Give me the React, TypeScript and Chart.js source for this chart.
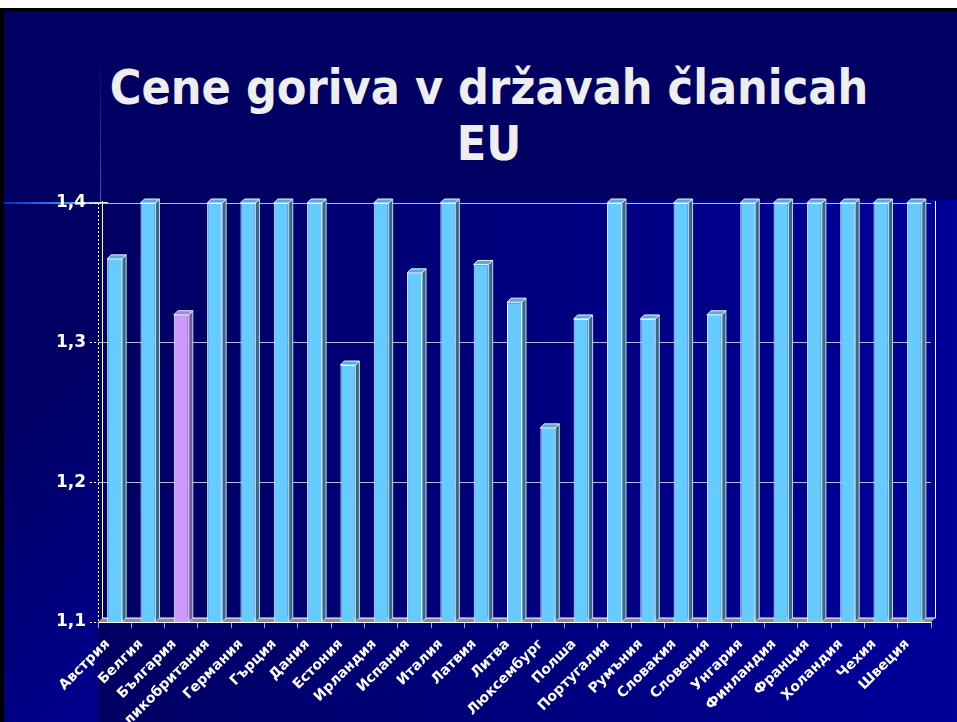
import React, { useEffect, useRef } from 'react';
import { Chart, registerables } from 'chart.js';

Chart.register(...registerables);

const titleLines = ['Cene goriva v državah članicah', 'EU'];

const countries = [
  'Австрия', 'Белгия', 'България', 'Великобритания', 'Германия', 'Гърция', 'Дания',
  'Естония', 'Ирландия', 'Испания', 'Италия', 'Латвия', 'Литва', 'Люксембург',
  'Полша', 'Португалия', 'Румъния', 'Словакия', 'Словения', 'Унгария', 'Финландия',
  'Франция', 'Холандия', 'Чехия', 'Швеция',
];

const prices = [
  1.36, 1.4, 1.32, 1.4, 1.4, 1.4, 1.4,
  1.284, 1.4, 1.35, 1.4, 1.356, 1.329, 1.239,
  1.317, 1.4, 1.317, 1.4, 1.32, 1.4, 1.4,
  1.4, 1.4, 1.4, 1.4,
];

const highlighted = ['България'];

const yMin = 1.1;
const yMax = 1.4;
const yStep = 0.1;

const FRONT = '#66ccff';
const SIDE = '#336b88';
const TOP = '#5aaad4';
const FRONT_HI = '#cc99ff';
const SIDE_HI = '#7a5a9c';
const TOP_HI = '#a880d8';
const DEPTH = 4;

const bar3d = {
  id: 'bar3d',
  beforeDatasetsDraw(chart: any) {
    const { ctx, chartArea } = chart;
    const { left, right, top, bottom } = chartArea;
    ctx.save();
    // floor
    ctx.fillStyle = '#8c8ca0';
    ctx.beginPath();
    ctx.moveTo(left, bottom);
    ctx.lineTo(right, bottom);
    ctx.lineTo(right + DEPTH, bottom - DEPTH);
    ctx.lineTo(left + DEPTH, bottom - DEPTH);
    ctx.closePath();
    ctx.fill();
    // back wall edges
    ctx.strokeStyle = '#ffffff';
    ctx.lineWidth = 1;
    ctx.beginPath();
    ctx.moveTo(Math.round(left + DEPTH) + 0.5, top - 2);
    ctx.lineTo(Math.round(left + DEPTH) + 0.5, bottom - DEPTH);
    ctx.lineTo(Math.round(right + DEPTH) + 0.5, bottom - DEPTH);
    ctx.lineTo(Math.round(right + DEPTH) + 0.5, top - 2);
    ctx.stroke();
    // dashed value axis line
    ctx.setLineDash([2, 2]);
    ctx.beginPath();
    ctx.moveTo(Math.round(left) + 0.5, top);
    ctx.lineTo(Math.round(left) + 0.5, bottom);
    ctx.stroke();
    ctx.restore();
  },
  afterDatasetsDraw(chart: any) {
    const { ctx, chartArea } = chart;
    const meta = chart.getDatasetMeta(0);
    ctx.save();
    meta.data.forEach((el: any, i: number) => {
      const p = el.getProps(['x', 'y', 'base', 'width'], true);
      const x = p.x;
      const width = p.width;
      const y = Math.max(p.y, chartArea.top);
      const base = Math.min(p.base, chartArea.bottom);
      const l = x - width / 2;
      const r = x + width / 2;
      const hi = highlighted.includes(countries[i]);
      // side face
      ctx.fillStyle = hi ? SIDE_HI : SIDE;
      ctx.beginPath();
      ctx.moveTo(r, y);
      ctx.lineTo(r + DEPTH, y - DEPTH);
      ctx.lineTo(r + DEPTH, base - DEPTH);
      ctx.lineTo(r, base);
      ctx.closePath();
      ctx.fill();
      ctx.strokeStyle = '#c8d8e8';
      ctx.lineWidth = 1;
      ctx.stroke();
      // top face
      ctx.fillStyle = hi ? TOP_HI : TOP;
      ctx.beginPath();
      ctx.moveTo(l, y);
      ctx.lineTo(l + DEPTH, y - DEPTH);
      ctx.lineTo(r + DEPTH, y - DEPTH);
      ctx.lineTo(r, y);
      ctx.closePath();
      ctx.fill();
      ctx.strokeStyle = '#e8f4ff';
      ctx.stroke();
    });
    ctx.restore();
  },
};

export default function App() {
  const canvasRef = useRef<HTMLCanvasElement | null>(null);

  useEffect(() => {
    const canvas = canvasRef.current;
    if (!canvas) return;
    const chart = new Chart(canvas, {
      type: 'bar',
      data: {
        labels: countries,
        datasets: [
          {
            data: prices,
            backgroundColor: countries.map((c) => (highlighted.includes(c) ? FRONT_HI : FRONT)),
            borderColor: '#eef6ff',
            borderWidth: 1,
            barPercentage: 0.9,
            categoryPercentage: 0.5,
          },
        ],
      },
      options: {
        responsive: false,
        animation: false,
        devicePixelRatio: 1,
        layout: { padding: { top: 203, left: 0, right: 26, bottom: 0 } },
        plugins: {
          legend: { display: false },
          tooltip: { enabled: false },
          title: { display: false },
        },
        scales: {
          x: {
            afterFit: (scale: any) => {
              scale.height = 100;
            },
            border: { display: true, color: '#ffffff', width: 1 },
            grid: {
              display: true,
              drawOnChartArea: false,
              offset: true,
              tickLength: 6,
              tickColor: '#a8a8d8',
            },
            ticks: {
              color: '#ffffff',
              font: { family: 'DejaVu Sans', weight: 'bold', size: 14 },
              maxRotation: 45,
              minRotation: 45,
              autoSkip: false,
              padding: 8,
              labelOffset: -7,
            },
          },
          y: {
            min: yMin,
            max: yMax,
            afterFit: (scale: any) => {
              scale.width = 98;
            },
            border: { display: false },
            grid: {
              color: '#b8b8e0',
              lineWidth: 1,
              tickLength: 8,
              tickColor: '#ffffff',
              tickBorderDash: [2, 2],
            },
            ticks: {
              stepSize: yStep,
              color: '#ffffff',
              padding: 4,
              font: { family: 'DejaVu Sans', weight: 'bold', size: 17 },
              callback: (v: any) => Number(v).toFixed(1).replace('.', ','),
            },
          },
        },
      },
      plugins: [bar3d],
    });
    return () => chart.destroy();
  }, []);

  return (
    <div style={{ position: 'fixed', left: 0, top: 0, width: 957, height: 722, background: '#ffffff', overflow: 'hidden' }}>
      <div
        style={{
          position: 'absolute',
          left: 0,
          top: 8,
          width: 957,
          height: 714,
          boxSizing: 'border-box',
          borderTop: '3px solid #000',
          borderLeft: '4px solid #000',
          background: 'linear-gradient(135deg, #000064 25%, #0000a4 60%)',
        }}
      />
      <div style={{ position: 'absolute', left: 4, top: 11, width: 953, height: 189, background: '#000062' }} />
      <div
        style={{
          position: 'absolute',
          left: 98,
          top: 200,
          width: 859,
          height: 522,
          background: 'linear-gradient(to right, #000062 0%, #000080 55%, #00009a 100%)',
        }}
      />
      <div
        style={{
          position: 'absolute',
          left: 100,
          top: 55,
          width: 1,
          height: 148,
          background: 'linear-gradient(to bottom, rgba(40,80,230,0), #2a5ae8)',
        }}
      />
      <div
        style={{
          position: 'absolute',
          left: 4,
          top: 202,
          width: 104,
          height: 2,
          background: 'linear-gradient(to right, #0030c0, #3a8aff 60%, #ffffc8)',
        }}
      />
      <div
        style={{
          position: 'absolute',
          left: 98,
          top: 59,
          width: 782,
          textAlign: 'center',
          color: '#eeeeee',
          fontFamily: '"DejaVu Sans Condensed", "DejaVu Sans", sans-serif',
          fontStretch: 'condensed',
          fontWeight: 'bold',
          fontSize: 48,
          lineHeight: '56px',
        }}
      >
        {titleLines.map((t) => (
          <div key={t}>{t}</div>
        ))}
      </div>
      <canvas ref={canvasRef} width={957} height={722} style={{ position: 'absolute', left: 0, top: 0 }} />
    </div>
  );
}
